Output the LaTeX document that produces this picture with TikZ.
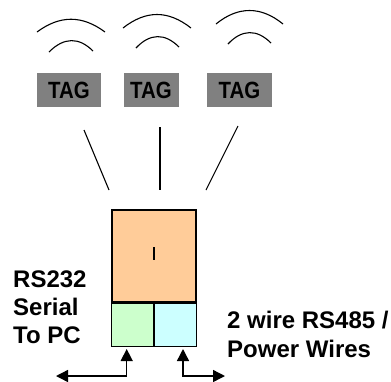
\documentclass[tikz,border=0pt]{standalone}
\usepackage{fontspec}
\setmainfont{Liberation Sans}
\newfontfamily\tagfont[FakeStretch=0.87]{Liberation Sans}
\usetikzlibrary{arrows.meta}
\definecolor{peach}{RGB}{255,204,153}
\definecolor{mint}{RGB}{204,255,204}
\definecolor{ice}{RGB}{204,255,255}
\definecolor{tagfill}{RGB}{128,128,128}
\tikzset{
  tag/.style={rectangle, fill=tagfill, minimum height=34pt, inner sep=0pt,
    font=\tagfont\bfseries\fontsize{23.5}{23.5}\selectfont},
  part/.style={rectangle, draw, line width=1.3pt, inner sep=0pt},
  wave/.style={line width=1.1pt},
  wire/.style={line width=1.4pt, {Triangle[width=12pt,length=12pt]}-{Triangle[width=12pt,length=12pt]}},
  label/.style={align=left, inner sep=0pt, font=\bfseries\fontsize{24}{28}\selectfont}
}

\begin{document}
\begin{tikzpicture}[x=1pt, y=-1pt]
\useasboundingbox (0,0) rectangle (391,381);

% tags
\node[tag, minimum width=64pt] (tag1) at (69,90) {TAG};
\node[tag, minimum width=55pt] (tag2) at (151,90) {TAG};
\node[tag, minimum width=65pt] (tag3) at (239.5,90) {TAG};

% waves over the tags
\draw[wave] (37,32) .. controls (60,15) and (82,15) .. (105,32);
\draw[wave] (49,52) .. controls (64,37) and (79,37) .. (93,51);
\draw[wave] (123,28) .. controls (146,10) and (168,10) .. (191,28);
\draw[wave] (136,48) .. controls (150,33) and (165,33) .. (179,47);
\draw[wave] (216,24) .. controls (238,6) and (261,6) .. (283,24);
\draw[wave] (228,44) .. controls (242,29) and (257,29) .. (271,43);

% reader
\node[part, fill=peach, minimum width=84pt, minimum height=92pt] (reader) at (154,256) {};
\node[part, fill=mint, minimum width=42pt, minimum height=43pt, anchor=north east] (serial) at (reader.south) {};
\node[part, fill=ice, minimum width=42pt, minimum height=43pt, anchor=north west] (bus) at (reader.south) {};
\draw[line width=1.8pt] (154.3,247) -- (154.3,260);

% antenna lines
\coordinate (a1) at (84,130);
\coordinate (b1) at (109,190);
\coordinate (a2) at (160,127);
\coordinate (b2) at (160,190);
\coordinate (a3) at (238,126);
\coordinate (b3) at (206,190);
\draw[wave] (a1) -- (b1);
\draw[wave] (a2) -- (b2);
\draw[wave] (a3) -- (b3);

% wires
\coordinate (s1) at (126.7,349);
\coordinate (s2) at (56,376);
\coordinate (p1) at (183,349);
\coordinate (p2) at (225,376);
\draw[wire] (s2) -| (s1);
\draw[wire] (p1) |- (p2);

% labels
\node[label, anchor=base west] (pc) at (13,343) {RS232\\Serial\\To PC};
\node[label, anchor=base west, font=\bfseries\fontsize{24}{29}\selectfont] (power) at (227,357) {2 wire RS485 /\\Power Wires};
\end{tikzpicture}
\end{document}
